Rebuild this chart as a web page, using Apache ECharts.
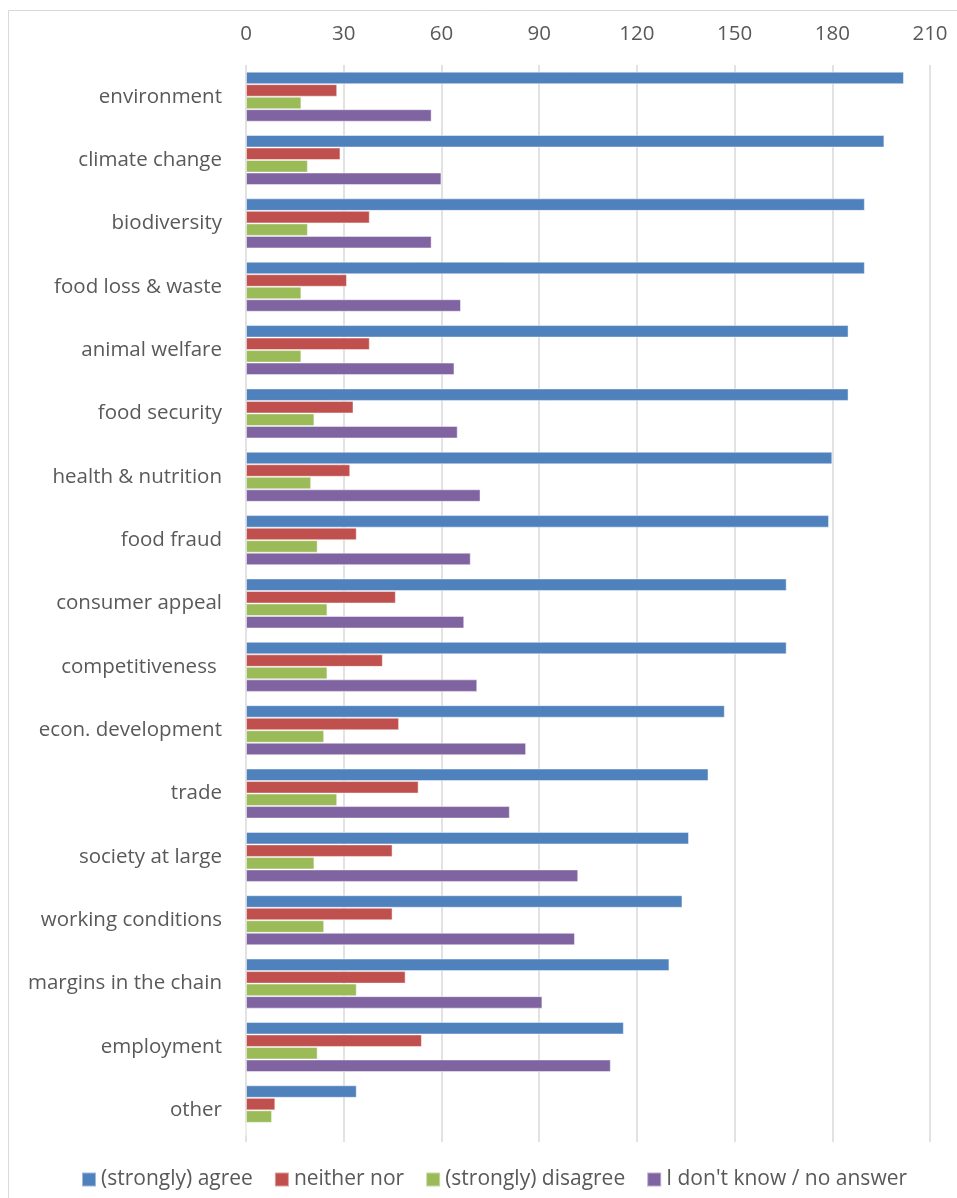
<!DOCTYPE html>
<html>
<head>
<meta charset="utf-8">
<script src="https://cdn.jsdelivr.net/npm/echarts@6/dist/echarts.min.js"></script>
<style>
  html, body { margin: 0; padding: 0; background: #fff; }
  #chart { width: 957px; height: 1198px; }
</style>
</head>
<body>
<div id="chart"></div>
<script>
// Survey topics, top to bottom
const categories = [
  'environment', 'climate change', 'biodiversity', 'food loss & waste',
  'animal welfare', 'food security', 'health & nutrition', 'food fraud',
  'consumer appeal', 'competitiveness ', 'econ. development', 'trade',
  'society at large', 'working conditions', 'margins in the chain',
  'employment', 'other'
];

const seriesNames = ['(strongly) agree', 'neither nor', '(strongly) disagree', "I don't know / no answer"];

const agree     = [202, 196, 190, 190, 185, 185, 180, 179, 166, 166, 147, 142, 136, 134, 130, 116, 34];
const neither   = [28, 29, 38, 31, 38, 33, 32, 34, 46, 42, 47, 53, 45, 45, 49, 54, 9];
const disagree  = [17, 19, 19, 17, 17, 21, 20, 22, 25, 25, 24, 28, 21, 24, 34, 22, 8];
const dontKnow  = [57, 60, 57, 66, 64, 65, 72, 69, 67, 71, 86, 81, 102, 101, 91, 112, 0];

const xTicks = { min: 0, max: 210, interval: 30 };

const colors = ['#4F81BD', '#C0504D', '#9BBB59', '#8064A2'];
const values = [agree, neither, disagree, dontKnow];

const FONT = 'Open Sans';
const TEXT = '#595959';

const chart = echarts.init(document.getElementById('chart'), null, { renderer: 'canvas' });

chart.setOption({
  backgroundColor: '#ffffff',
  animation: false,
  color: colors,
  graphic: [{
    type: 'rect',
    shape: { x: 8.5, y: 10.5, width: 960, height: 1200 },
    style: { fill: 'none', stroke: '#d9d9d9', lineWidth: 1 },
    silent: true
  }],
  grid: { left: 246, right: 27, top: 65, bottom: 56, containLabel: false },
  legend: {
    bottom: 3,
    left: 76,
    itemWidth: 14,
    itemHeight: 14,
    itemGap: 21,
    icon: 'rect',
    textStyle: { fontFamily: FONT, fontSize: 21, color: TEXT, padding: [0, 0, 0, 0] },
    data: seriesNames
  },
  xAxis: {
    type: 'value',
    position: 'top',
    min: xTicks.min,
    max: xTicks.max,
    interval: xTicks.interval,
    axisLine: { show: false },
    axisTick: { show: false },
    axisLabel: { fontFamily: FONT, fontSize: 20.5, color: TEXT, margin: 20 },
    splitLine: { show: true, lineStyle: { color: '#d9d9d9', width: 1.5 } }
  },
  yAxis: {
    type: 'category',
    inverse: true,
    data: categories,
    axisLine: { show: false },
    axisTick: { show: false },
    axisLabel: { fontFamily: FONT, fontSize: 20.5, color: TEXT, margin: 24, lineHeight: 26, padding: [6, 0, 0, 0] }
  },
  series: seriesNames.map((name, i) => ({
    name: name,
    type: 'bar',
    data: values[i],
    barGap: '0%',
    barCategoryGap: '21%',
    itemStyle: { color: colors[i], borderColor: 'rgba(255,255,255,0.45)', borderWidth: 1 }
  }))
});
</script>
</body>
</html>
